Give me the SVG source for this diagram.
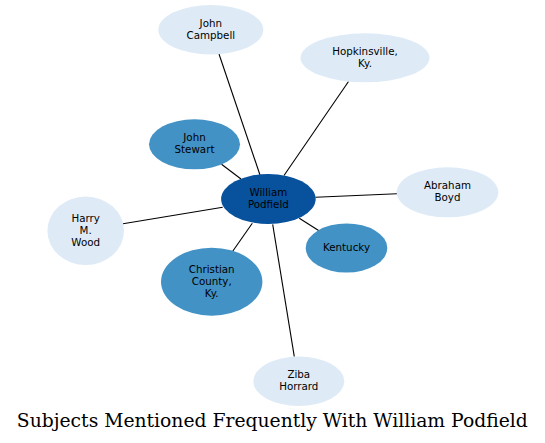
<svg xmlns="http://www.w3.org/2000/svg" width="545" height="443" viewBox="0 0 545 443">
<style>
.e{stroke:#000;stroke-width:1.1;fill:none}
.l{fill:#deebf7}
.m{fill:#4292c6}
.d{fill:#08519c}
.t{font-family:"DejaVu Sans",sans-serif;font-size:10.3px;fill:#000;text-anchor:middle}
.title{font-family:"DejaVu Serif",serif;font-size:18.5px;fill:#000;text-anchor:middle}
</style>
<rect width="545" height="443" fill="#fff"/>
<g id="edges">
<line class="e" x1="219" y1="54" x2="260" y2="175"/>
<line class="e" x1="348.5" y1="81.5" x2="284" y2="175.5"/>
<line class="e" x1="221.5" y1="164.3" x2="241" y2="179"/>
<line class="e" x1="397" y1="193.7" x2="315.5" y2="197.3"/>
<line class="e" x1="123" y1="223.7" x2="222.7" y2="207.3"/>
<line class="e" x1="299.3" y1="218.3" x2="319" y2="230.7"/>
<line class="e" x1="252.3" y1="223.3" x2="232.7" y2="251.3"/>
<line class="e" x1="272.7" y1="224.3" x2="294.3" y2="356.7"/>
</g>
<g id="john-campbell">
<ellipse class="l" cx="210.8" cy="29.7" rx="52.5" ry="24.7"/>
<text class="t" x="210.8" y="26.7">John</text>
<text class="t" x="210.8" y="38.7">Campbell</text>
</g>
<g id="hopkinsville">
<ellipse class="l" cx="365" cy="57.8" rx="64.5" ry="24.5"/>
<text class="t" x="365" y="54.8">Hopkinsville,</text>
<text class="t" x="365" y="66.8">Ky.</text>
</g>
<g id="john-stewart">
<ellipse class="m" cx="194.5" cy="144.3" rx="45.5" ry="25"/>
<text class="t" x="194.5" y="141.3">John</text>
<text class="t" x="194.5" y="153.3">Stewart</text>
</g>
<g id="william-podfield">
<ellipse class="d" cx="268.4" cy="199" rx="47.3" ry="25"/>
<text class="t" x="268.4" y="196">William</text>
<text class="t" x="268.4" y="208">Podfield</text>
</g>
<g id="abraham-boyd">
<ellipse class="l" cx="447.5" cy="192.3" rx="50.8" ry="25"/>
<text class="t" x="447.5" y="189.3">Abraham</text>
<text class="t" x="447.5" y="201.3">Boyd</text>
</g>
<g id="harry-m-wood">
<ellipse class="l" cx="85.7" cy="230.8" rx="38.3" ry="34.2"/>
<text class="t" x="85.7" y="221.8">Harry</text>
<text class="t" x="85.7" y="233.8">M.</text>
<text class="t" x="85.7" y="245.8">Wood</text>
</g>
<g id="kentucky">
<ellipse class="m" cx="346.5" cy="248" rx="40.8" ry="24.5"/>
<text class="t" x="346.5" y="251">Kentucky</text>
</g>
<g id="christian-county">
<ellipse class="m" cx="211.7" cy="281.7" rx="50.7" ry="34"/>
<text class="t" x="211.7" y="272.7">Christian</text>
<text class="t" x="211.7" y="284.7">County,</text>
<text class="t" x="211.7" y="296.7">Ky.</text>
</g>
<g id="ziba-horrard">
<ellipse class="l" cx="298.8" cy="381.3" rx="45.5" ry="24.7"/>
<text class="t" x="298.8" y="378.3">Ziba</text>
<text class="t" x="298.8" y="390.3">Horrard</text>
</g>
<text class="title" x="272.3" y="427.3" textLength="511" lengthAdjust="spacingAndGlyphs">Subjects Mentioned Frequently With William Podfield</text>
</svg>
